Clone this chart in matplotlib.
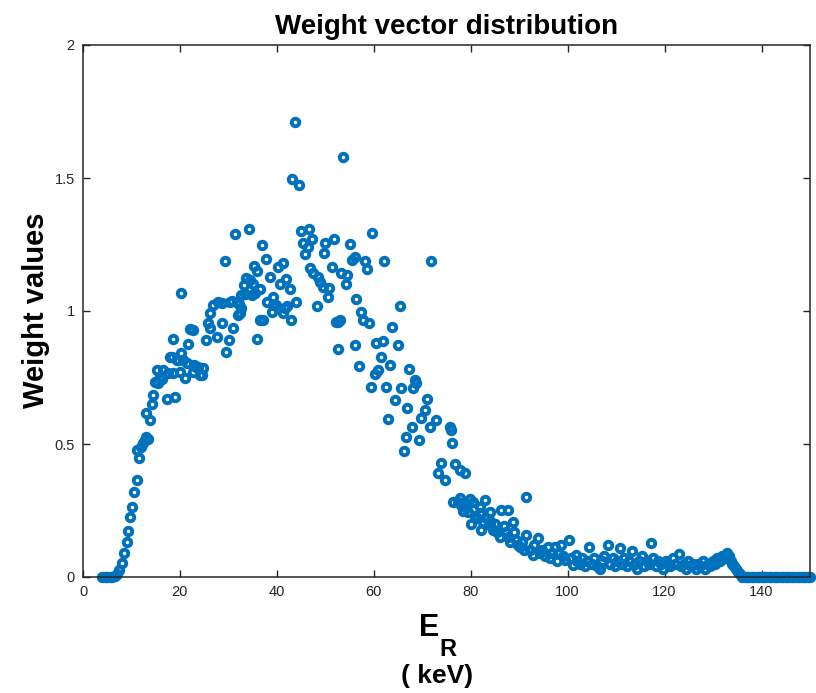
import matplotlib
matplotlib.use("Agg")
import matplotlib.pyplot as plt

plt.rcParams['font.family'] = ['Liberation Sans', 'DejaVu Sans']

# Energy (keV) and weight values
energy_rise = [4.0, 4.5, 5.0, 5.5, 6.0, 6.5, 7.0, 7.5, 8.0, 8.5, 9.0, 9.35, 9.7, 10.1, 10.6, 11.1, 11.6, 11.2,
               11.9, 12.3, 12.7, 13.1, 13.5, 13.8, 13.1, 14.2, 14.5, 14.8, 15.2, 15.5, 15.9, 16.3, 16.6, 17.3,
               17.6, 17.9, 18.3, 18.5, 18.6, 19.0, 19.3, 19.7, 20.0, 20.2, 20.3, 20.6, 21.0, 21.4, 21.7, 22.1,
               22.6, 22.7, 22.8, 23.4, 23.8, 24.1, 24.5, 24.8, 25.4, 25.8, 26.2, 26.2, 26.9, 27.6, 27.9, 28.6,
               28.6, 29.3, 29.6, 30.2, 30.3, 30.7, 31.0, 31.3, 31.7, 32.0, 32.2, 32.4, 32.7, 32.7, 33.2, 33.4,
               33.7, 34.2, 34.4, 34.8, 35.1, 35.3, 35.5, 36.0, 35.8, 36.5, 36.5, 37.0, 37.2, 37.7, 37.9, 38.6,
               38.9, 39.2, 39.3, 39.9, 40.3, 40.6, 41.2, 41.2, 41.6, 41.9, 42.0, 42.7, 43.0]
weight_rise = [0.0, 0.0, 0.0, 0.0, 0.0, 0.003, 0.01, 0.025, 0.054, 0.09, 0.13, 0.174, 0.227, 0.264, 0.32, 0.365,
               0.446, 0.477, 0.49, 0.505, 0.515, 0.527, 0.52, 0.59, 0.618, 0.65, 0.684, 0.734, 0.778, 0.73,
               0.753, 0.745, 0.78, 0.668, 0.768, 0.828, 0.826, 0.894, 0.766, 0.676, 0.816, 0.816, 0.772, 1.069,
               0.841, 0.816, 0.747, 0.806, 0.876, 0.931, 0.929, 0.772, 0.797, 0.79, 0.79, 0.759, 0.759, 0.785,
               0.891, 0.954, 0.935, 0.994, 1.023, 0.903, 1.035, 0.956, 1.031, 1.189, 0.847, 0.891, 1.035, 1.039,
               0.935, 1.289, 1.035, 0.985, 1.026, 0.991, 1.01, 1.06, 1.098, 1.064, 1.123, 1.308, 1.117, 1.06,
               1.101, 1.169, 1.067, 0.893, 1.152, 0.966, 1.082, 1.248, 0.968, 1.194, 1.035, 1.129, 0.995, 1.054,
               1.023, 1.023, 1.164, 1.101, 1.179, 0.994, 1.01, 1.119, 1.017, 1.082, 0.966]

energy_peak = [43.2, 43.7, 44.0, 44.5, 44.9, 45.4, 45.8, 46.5, 46.6, 47.2, 46.8, 47.5, 48.2, 48.5, 48.9, 49.5,
               49.7, 49.9, 50.6, 50.8, 51.3, 51.8, 52.3, 52.6, 52.7, 53.0, 53.3, 53.7, 54.2, 54.5, 55.1, 55.4,
               56.1, 56.3, 56.2, 57.0, 57.4, 57.8, 58.1, 58.6, 59.0, 59.4, 59.7, 60.2, 60.5, 60.9, 61.4, 61.9,
               62.1, 62.6, 63.0, 63.3, 63.8, 64.3, 65.0, 65.4, 65.7, 66.2, 66.6, 66.9, 67.3, 67.8, 68.1, 68.5,
               68.8, 69.3, 69.8, 70.5, 71.0, 71.5, 71.8, 72.9]
weight_peak = [1.496, 1.709, 1.035, 1.474, 1.3, 1.257, 1.214, 1.242, 1.308, 1.27, 1.16, 1.142, 1.02, 1.129, 1.11,
               1.091, 1.219, 1.257, 1.051, 1.085, 1.167, 1.27, 0.96, 0.856, 0.96, 0.966, 1.144, 1.578, 1.1, 1.135,
               1.252, 1.192, 1.204, 1.044, 0.874, 0.793, 0.998, 0.968, 1.189, 1.157, 0.956, 0.715, 1.292, 0.762,
               0.878, 0.78, 0.828, 0.888, 1.189, 0.715, 0.594, 0.796, 0.938, 0.665, 0.872, 1.02, 0.712, 0.475,
               0.527, 0.636, 0.782, 0.565, 0.709, 0.74, 0.728, 0.515, 0.597, 0.628, 0.668, 0.565, 1.189, 0.59]

energy_fall = [73.3, 73.9, 74.6, 75.7, 76.0, 76.2, 76.4, 76.8, 77.4, 77.7, 77.8, 78.0, 78.5, 78.9, 79.0, 79.5,
               79.8, 80.1, 80.5, 80.8, 81.3, 81.9, 82.0, 82.2, 82.5, 82.9, 83.2, 83.9, 83.9, 84.0, 84.6, 85.0,
               85.5, 86.0, 86.3, 86.8, 87.2, 87.7, 87.7, 88.2, 88.7, 89.0, 89.4, 89.8, 90.1, 90.6, 91.0, 91.3,
               91.5, 92.2, 92.8, 93.0, 93.9, 94.2, 94.8, 95.3, 95.9, 96.3, 96.8, 97.3, 97.8, 98.0, 98.7, 99.0,
               99.4, 100.2, 100.6, 101.1, 101.8]
weight_fall = [0.39, 0.427, 0.365, 0.565, 0.553, 0.505, 0.283, 0.423, 0.283, 0.402, 0.296, 0.27, 0.25, 0.39,
               0.26, 0.245, 0.293, 0.201, 0.283, 0.23, 0.22, 0.264, 0.24, 0.177, 0.208, 0.291, 0.22, 0.245,
               0.196, 0.21, 0.177, 0.2, 0.17, 0.15, 0.252, 0.19, 0.17, 0.252, 0.152, 0.13, 0.208, 0.17, 0.139,
               0.12, 0.114, 0.13, 0.1, 0.302, 0.158, 0.102, 0.083, 0.12, 0.145, 0.089, 0.1, 0.08, 0.114, 0.07,
               0.09, 0.114, 0.06, 0.089, 0.12, 0.08, 0.064, 0.138, 0.07, 0.045, 0.083]

energy_tail = [102.0, 102.5, 103.0, 103.5, 104.0, 104.5, 105.0, 105.5, 106.0, 106.6, 107.0, 107.5, 108.3, 108.8,
               109.3, 109.8, 110.2, 110.7, 111.2, 111.7, 112.2, 112.7, 113.3, 113.8, 114.3, 114.8, 115.3, 115.8,
               116.3, 116.8, 117.2, 117.7, 118.2, 118.7, 119.2, 119.7, 120.2, 120.7, 121.2, 121.7, 122.2, 122.9,
               123.4, 123.9, 124.4, 124.9, 125.4, 125.9, 126.4, 126.9, 127.4, 127.9, 128.4, 128.9, 129.4, 129.9,
               130.4, 130.9, 131.4, 131.9, 132.4, 132.8, 133.2, 133.6, 134.0, 134.4, 134.8, 135.2, 135.6, 136.0,
               136.5, 137.0, 137.5, 138.0, 138.5, 139.0, 139.5, 140.0, 140.5, 141.0, 141.5, 142.0, 142.5, 143.0,
               143.5, 144.0, 144.5, 145.0, 145.5, 146.0, 146.5, 147.0, 147.5, 148.0, 148.5, 149.0, 149.5, 150.0]
weight_tail = [0.06, 0.05, 0.07, 0.04, 0.06, 0.112, 0.05, 0.07, 0.04, 0.03, 0.06, 0.08, 0.12, 0.05, 0.07, 0.04,
               0.06, 0.108, 0.05, 0.07, 0.04, 0.06, 0.099, 0.05, 0.03, 0.06, 0.08, 0.04, 0.06, 0.05, 0.127, 0.07,
               0.04, 0.06, 0.05, 0.03, 0.06, 0.05, 0.04, 0.07, 0.05, 0.086, 0.04, 0.05, 0.03, 0.06, 0.04, 0.05,
               0.03, 0.05, 0.04, 0.06, 0.03, 0.05, 0.04, 0.06, 0.05, 0.07, 0.06, 0.08, 0.07, 0.09, 0.08, 0.06,
               0.05, 0.04, 0.03, 0.02, 0.01, 0.0, 0.0, 0.0, 0.0, 0.0, 0.0, 0.0, 0.0, 0.0, 0.0, 0.0, 0.0, 0.0,
               0.0, 0.0, 0.0, 0.0, 0.0, 0.0, 0.0, 0.0, 0.0, 0.0, 0.0, 0.0, 0.0, 0.0, 0.0, 0.0]

x_ticks = [0, 20, 40, 60, 80, 100, 120, 140]
y_ticks = [0, 0.5, 1, 1.5, 2]
y_ticklabels = ['0', '0.5', '1', '1.5', '2']

energy = energy_rise + energy_peak + energy_fall + energy_tail
weight = weight_rise + weight_peak + weight_fall + weight_tail

fig = plt.figure(figsize=(8.16, 6.93), dpi=100)
ax = fig.add_axes([83/816, 1 - 577/693, (810 - 83)/816, (577 - 45)/693])

ax.plot(energy, weight, linestyle='none', marker='o', markersize=5.4, markerfacecolor='none',
        markeredgecolor='#0072BD', markeredgewidth=2.8, clip_on=False)

ax.set_xlim(0, 150)
ax.set_ylim(0, 2)
ax.set_xticks(x_ticks)
ax.set_yticks(y_ticks)
ax.set_yticklabels(y_ticklabels)
ax.tick_params(direction='in', length=5, width=1, top=True, right=True, labelsize=10.5,
               colors='#262626', pad=6)
for s in ax.spines.values():
    s.set_linewidth(1.1)
    s.set_color('#262626')

ax.set_title('Weight vector distribution', fontsize=20, fontweight='bold', pad=8)
fig.text(36/816, 1 - 310/693, 'Weight values', rotation=90, fontsize=21, fontweight='bold',
         ha='center', va='center')
fig.text(439/816, 1 - 628/693, 'E', fontsize=22, fontweight='bold', ha='right', va='center')
fig.text(439/816, 1 - 649/693, 'R', fontsize=17, fontweight='bold', ha='left', va='center')
fig.text(437/816, 1 - 676/693, '( keV)', fontsize=19, fontweight='bold', ha='center', va='center')

fig.savefig('out.png', dpi=100)
